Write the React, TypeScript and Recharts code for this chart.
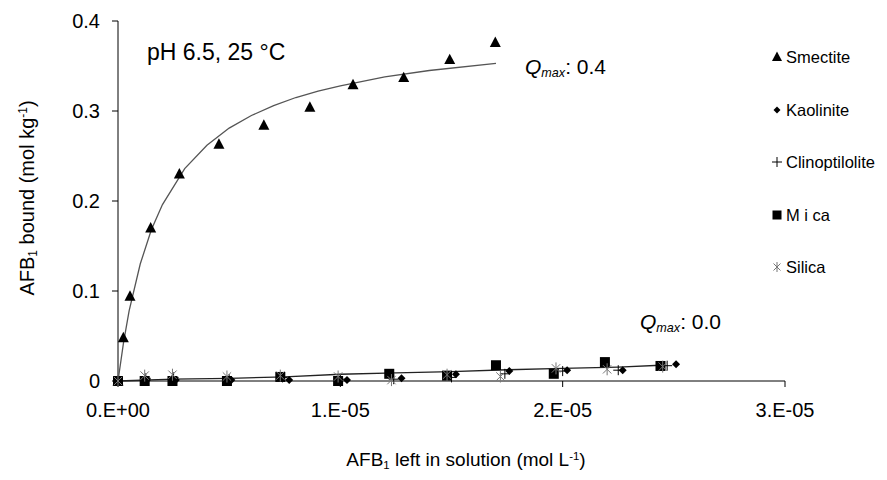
import React from 'react'
import { ScatterChart, Scatter, XAxis, YAxis } from 'recharts'

// x values are in 1e-6 mol L-1
const X_TICKS = [0, 10, 20, 30]
const X_TICK_LABELS = ['0.E+00', '1.E-05', '2.E-05', '3.E-05']
const Y_TICKS = [0, 0.1, 0.2, 0.3, 0.4]
const Y_TICK_LABELS = ['0', '0.1', '0.2', '0.3', '0.4']

const smectiteX = [0, 0.24, 0.54, 1.47, 2.76, 4.54, 6.56, 8.63, 10.57, 12.85, 14.92, 16.97]
const smectiteY = [0, 0.048, 0.094, 0.17, 0.23, 0.263, 0.284, 0.304, 0.329, 0.337, 0.357, 0.376]

const kaoliniteX = [0, 1.3, 2.6, 5.1, 7.7, 10.3, 12.75, 15.2, 17.6, 20.2, 22.7, 25.1]
const kaoliniteY = [0, 0.001, 0.001, 0.001, 0.001, 0.001, 0.003, 0.0075, 0.011, 0.012, 0.012, 0.0186]

const clinoX = [0, 1.25, 2.5, 5.0, 7.4, 10.0, 12.4, 15.0, 17.4, 20.0, 22.5, 24.7]
const clinoY = [0, 0.003, 0.004, 0.002, 0.004, 0.002, 0.002, 0.004, 0.008, 0.011, 0.012, 0.017]

const micaX = [0, 1.2, 2.45, 4.9, 7.3, 9.9, 12.2, 14.8, 17.0, 19.6, 21.9, 24.4]
const micaY = [0, 0, 0, 0, 0.0045, 0, 0.008, 0.006, 0.0175, 0.008, 0.021, 0.0167]

const silicaX = [0, 1.2, 2.45, 4.9, 7.3, 9.9, 12.3, 14.8, 17.2, 19.7, 22.0, 24.5]
const silicaY = [0, 0.006, 0.007, 0.005, 0.006, 0.005, 0.001, 0.007, 0.005, 0.014, 0.013, 0.016]

// fitted curves
const smectiteFitX = [0, 0.25, 0.5, 1, 1.5, 2, 3, 4, 5, 6, 7, 8, 9, 10, 12, 14, 17]
const smectiteFitY = [0, 0.043, 0.078, 0.13, 0.168, 0.196, 0.236, 0.262, 0.281, 0.295, 0.306, 0.315, 0.322, 0.328, 0.338, 0.345, 0.353]

const lowFitX = [0, 2.5, 5, 7.5, 10, 12.5, 15, 17.5, 20, 22.5, 24.4]
const lowFitY = [0, 0.002, 0.003, 0.0045, 0.0075, 0.009, 0.0105, 0.0125, 0.014, 0.0155, 0.0175]

const toPoints = (xs: number[], ys: number[]) => xs.map((x, i) => ({ x, y: ys[i] }))

const FONT = '"Liberation Sans", Arial, sans-serif'

const Triangle = ({ cx, cy, s = 11 }: any) => (
  <path d={`M${cx},${cy - s * 0.55} L${cx + s / 2},${cy + s * 0.4} L${cx - s / 2},${cy + s * 0.4} Z`} fill="#000" />
)
const Diamond = ({ cx, cy, s = 8 }: any) => (
  <path d={`M${cx},${cy - s / 2} L${cx + s / 2},${cy} L${cx},${cy + s / 2} L${cx - s / 2},${cy} Z`} fill="#000" />
)
const Plus = ({ cx, cy, s = 10 }: any) => (
  <path d={`M${cx - s / 2},${cy} H${cx + s / 2} M${cx},${cy - s / 2} V${cy + s / 2}`} stroke="#000" strokeWidth={1} fill="none" />
)
const Square = ({ cx, cy, s = 10 }: any) => (
  <rect x={cx - s / 2} y={cy - s / 2} width={s} height={s} fill="#000" />
)
const Asterisk = ({ cx, cy, s = 12 }: any) => {
  const h = s / 2
  const d = h * 0.7
  return (
    <path
      d={`M${cx - d},${cy - d} L${cx + d},${cy + d} M${cx + d},${cy - d} L${cx - d},${cy + d} M${cx},${cy - h} V${cy + h}`}
      stroke="#777"
      strokeWidth={1}
      fill="none"
    />
  )
}
const NoMark = () => <g />

const LEGEND = [
  { name: 'Smectite', icon: <Triangle cx={6} cy={7} s={10} /> },
  { name: 'Kaolinite', icon: <Diamond cx={6} cy={7} s={7} /> },
  { name: 'Clinoptilolite', icon: <Plus cx={6} cy={7} s={10} /> },
  { name: 'M i ca', icon: <Square cx={6} cy={7} s={9} /> },
  { name: 'Silica', icon: <Asterisk cx={6} cy={7} s={10} /> },
]
const LEGEND_TOP = [58, 111, 163, 216, 268]

const abs = (left: number, top: number, extra: React.CSSProperties = {}): React.CSSProperties => ({
  position: 'absolute',
  left,
  top,
  fontFamily: FONT,
  color: '#000',
  whiteSpace: 'nowrap',
  lineHeight: 1,
  ...extra,
})

const sub: React.CSSProperties = { fontSize: '0.6em', verticalAlign: '-0.25em' }
const sup: React.CSSProperties = { fontSize: '0.6em', verticalAlign: '0.6em' }

export default function App() {
  return (
    <div style={{ position: 'absolute', left: 0, top: 0, width: 887, height: 480, background: '#fff' }}>
      <ScatterChart width={887} height={480} margin={{ top: 21, right: 102, bottom: 0, left: 0 }}>
        <XAxis
          type="number"
          dataKey="x"
          domain={[0, 30]}
          ticks={X_TICKS}
          tickFormatter={(v: number) => X_TICK_LABELS[X_TICKS.indexOf(v)]}
          height={99}
          tickSize={6}
          tickMargin={16}
          stroke="#000"
          tick={{ fill: '#000', fontSize: 20, fontFamily: FONT }}
        />
        <YAxis
          type="number"
          dataKey="y"
          domain={[0, 0.4]}
          ticks={Y_TICKS}
          tickFormatter={(v: number) => Y_TICK_LABELS[Y_TICKS.indexOf(v)]}
          width={118}
          tickSize={6}
          tickMargin={12}
          stroke="#000"
          tick={{ fill: '#000', fontSize: 20, fontFamily: FONT }}
        />
        <Scatter
          data={toPoints(smectiteFitX, smectiteFitY)}
          line={{ stroke: '#555', strokeWidth: 1.3 }}
          shape={NoMark}
          isAnimationActive={false}
        />
        <Scatter
          data={toPoints(lowFitX, lowFitY)}
          line={{ stroke: '#222', strokeWidth: 1.3 }}
          shape={NoMark}
          isAnimationActive={false}
        />
        <Scatter data={toPoints(smectiteX, smectiteY)} shape={(p: any) => <Triangle cx={p.cx} cy={p.cy} />} isAnimationActive={false} />
        <Scatter data={toPoints(kaoliniteX, kaoliniteY)} shape={(p: any) => <Diamond cx={p.cx} cy={p.cy} />} isAnimationActive={false} />
        <Scatter data={toPoints(clinoX, clinoY)} shape={(p: any) => <Plus cx={p.cx} cy={p.cy} />} isAnimationActive={false} />
        <Scatter data={toPoints(micaX, micaY)} shape={(p: any) => <Square cx={p.cx} cy={p.cy} />} isAnimationActive={false} />
        <Scatter data={toPoints(silicaX, silicaY)} shape={(p: any) => <Asterisk cx={p.cx} cy={p.cy} />} isAnimationActive={false} />
      </ScatterChart>

      <div style={abs(147, 41, { fontSize: 23 })}>pH 6.5, 25 °C</div>
      <div style={abs(525, 56, { fontSize: 21 })}>
        <i>Q</i><i style={sub}>max</i>: 0.4
      </div>
      <div style={abs(640, 311, { fontSize: 21 })}>
        <i>Q</i><i style={sub}>max</i>: 0.0
      </div>

      <div style={abs(466, 461, { fontSize: 19, transform: 'translate(-50%, -50%)' })}>
        AFB<span style={sub}>1</span> left in solution (mol L<span style={sup}>-1</span>)
      </div>
      <div style={abs(28, 198, { fontSize: 20, transform: 'translate(-50%, -50%) rotate(-90deg)' })}>
        AFB<span style={sub}>1</span> bound (mol kg<span style={sup}>-1</span>)
      </div>

      {LEGEND.map((item, i) => (
        <div key={item.name} style={abs(771, LEGEND_TOP[i] - 9, { fontSize: 16.5, display: 'flex', alignItems: 'center' })}>
          <svg width={13} height={14} style={{ marginRight: 2 }}>
            {item.icon}
          </svg>
          {item.name}
        </div>
      ))}
    </div>
  )
}
